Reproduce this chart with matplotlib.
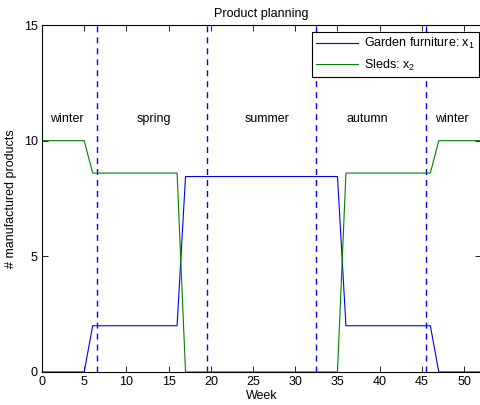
import matplotlib
matplotlib.use("Agg")
import matplotlib.pyplot as plt

plt.rcParams["font.family"] = ["Liberation Sans", "DejaVu Sans"]
plt.rcParams["mathtext.fontset"] = "custom"
plt.rcParams["mathtext.rm"] = "Liberation Sans"

weeks = list(range(0, 53))
# garden furniture x1 per week
garden = [0, 0, 0, 0, 0, 0] + [2.0] * 11 + [8.45] * 19 + [2.0] * 11 + [0] * 6
# sleds x2 per week
sleds = [10, 10, 10, 10, 10, 10] + [8.6] * 11 + [0] * 19 + [8.6] * 11 + [10] * 6

season_bounds = [6.5, 19.5, 32.5, 45.5]
season_names = ["winter", "spring", "summer", "autumn", "winter"]
season_pos = [3, 13.2, 26.7, 38.5, 48.6]
season_y = 10.95

fig = plt.figure(figsize=(4.8, 4.05), dpi=100)
ax = fig.add_axes([42 / 480, 1 - 372 / 405, 439 / 480, 347 / 405])

ax.plot(weeks, garden, color="blue", lw=0.8, label=r"Garden furniture: x$_\mathregular{1}$")
ax.plot(weeks, sleds, color=(0, 0.5, 0), lw=0.8, label=r"Sleds: x$_\mathregular{2}$")
for b in season_bounds:
    ax.axvline(b, color="blue", lw=1.0, dashes=(4.3, 3.6), zorder=1)
for name, xp in zip(season_names, season_pos):
    ax.text(xp, season_y, name, ha="center", va="center", fontsize=9)

ax.set_xlim(0, 52)
ax.set_ylim(0, 15)
ax.set_xticks(range(0, 51, 5))
ax.set_yticks([0, 5, 10, 15])
ax.tick_params(direction="in", top=True, right=True, labelsize=9, length=4, width=0.6, pad=3)
ax.set_xlabel("Week", fontsize=9, labelpad=1)
ax.set_ylabel("# manufactured products", fontsize=9, labelpad=5)
ax.set_title("Product planning", fontsize=9, pad=6)
for s in ax.spines.values():
    s.set_linewidth(0.8)

leg = ax.legend(loc="upper right", bbox_to_anchor=(1 - 2 / 439, 1 - 7 / 347),
                borderaxespad=0, fontsize=9, frameon=True, fancybox=False,
                edgecolor="black", framealpha=1, handlelength=3.3,
                borderpad=0.35, labelspacing=0.5, handletextpad=0.5)
leg.get_frame().set_linewidth(0.8)

fig.savefig("out.png", dpi=100)
